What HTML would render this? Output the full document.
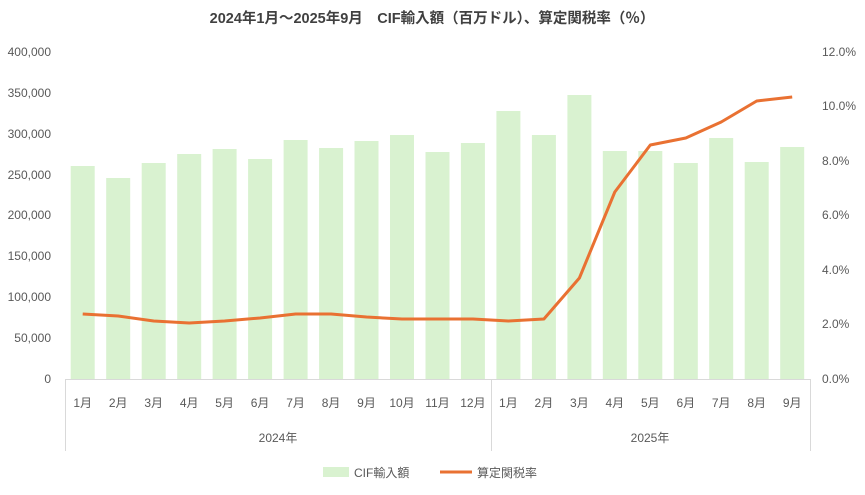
<!DOCTYPE html>
<html><head><meta charset="utf-8"><style>
body{margin:0;background:#fff;}
svg text{font-family:"Liberation Sans","Noto Sans CJK JP",sans-serif;fill:#595959;}
</style></head><body>
<svg width="865" height="490" viewBox="0 0 865 490" xmlns="http://www.w3.org/2000/svg">
<rect width="865" height="490" fill="#fff"/>
<text x="432" y="23" text-anchor="middle" font-size="14.5" font-weight="bold" style="fill:#404040">2024年1月～2025年9月　CIF輸入額（百万ドル）、算定関税率（％）</text>
<g font-size="12" text-anchor="end">
<text x="51" y="383">0</text><text x="51" y="342">50,000</text><text x="51" y="301">100,000</text><text x="51" y="260">150,000</text><text x="51" y="219">200,000</text><text x="51" y="179">250,000</text><text x="51" y="138">300,000</text><text x="51" y="97">350,000</text><text x="51" y="56">400,000</text>
</g>
<g font-size="12" text-anchor="start">
<text x="822" y="383">0.0%</text><text x="822" y="328">2.0%</text><text x="822" y="274">4.0%</text><text x="822" y="219">6.0%</text><text x="822" y="165">8.0%</text><text x="822" y="110">10.0%</text><text x="822" y="56">12.0%</text>
</g>
<g fill="#d9f2d0">
<rect x="70.7" y="166" width="24" height="213"/>
<rect x="106.2" y="178" width="24" height="201"/>
<rect x="141.7" y="163" width="24" height="216"/>
<rect x="177.2" y="154" width="24" height="225"/>
<rect x="212.6" y="149" width="24" height="230"/>
<rect x="248.1" y="159" width="24" height="220"/>
<rect x="283.6" y="140" width="24" height="239"/>
<rect x="319.1" y="148" width="24" height="231"/>
<rect x="354.5" y="141" width="24" height="238"/>
<rect x="390.0" y="135" width="24" height="244"/>
<rect x="425.5" y="152" width="24" height="227"/>
<rect x="460.9" y="143" width="24" height="236"/>
<rect x="496.4" y="111" width="24" height="268"/>
<rect x="531.9" y="135" width="24" height="244"/>
<rect x="567.4" y="95" width="24" height="284"/>
<rect x="602.8" y="151" width="24" height="228"/>
<rect x="638.3" y="151" width="24" height="228"/>
<rect x="673.8" y="163" width="24" height="216"/>
<rect x="709.2" y="138" width="24" height="241"/>
<rect x="744.7" y="162" width="24" height="217"/>
<rect x="780.2" y="147" width="24" height="232"/>
</g>
<line x1="65" y1="379.5" x2="810" y2="379.5" stroke="#d9d9d9"/>
<g stroke="#d9d9d9"><line x1="65.5" y1="379" x2="65.5" y2="451"/><line x1="491.5" y1="379" x2="491.5" y2="451"/><line x1="810.5" y1="379" x2="810.5" y2="451"/></g>
<g font-size="12" text-anchor="middle">
<text x="82.7" y="407">1月</text><text x="118.2" y="407">2月</text><text x="153.7" y="407">3月</text><text x="189.2" y="407">4月</text><text x="224.6" y="407">5月</text><text x="260.1" y="407">6月</text><text x="295.6" y="407">7月</text><text x="331.1" y="407">8月</text><text x="366.5" y="407">9月</text><text x="402.0" y="407">10月</text><text x="437.5" y="407">11月</text><text x="472.9" y="407">12月</text><text x="508.4" y="407">1月</text><text x="543.9" y="407">2月</text><text x="579.4" y="407">3月</text><text x="614.8" y="407">4月</text><text x="650.3" y="407">5月</text><text x="685.8" y="407">6月</text><text x="721.2" y="407">7月</text><text x="756.7" y="407">8月</text><text x="792.2" y="407">9月</text>
</g>
<text x="278" y="442" font-size="12" text-anchor="middle">2024年</text>
<text x="650" y="442" font-size="12" text-anchor="middle">2025年</text>
<polyline fill="none" stroke="#e97132" stroke-width="3" stroke-linejoin="round" points="82.7,314 118.2,316 153.7,321 189.2,323 224.6,321 260.1,318 295.6,314 331.1,314 366.5,317 402,319 437.5,319 472.9,319 508.4,321 543.9,319 579.4,278 614.8,192 650.3,145 685.8,138 721.2,122 756.7,101 792.2,97"/>
<rect x="323" y="467" width="26" height="10" fill="#d9f2d0"/>
<text x="354" y="477" font-size="12">CIF輸入額</text>
<line x1="440" y1="472" x2="472" y2="472" stroke="#e97132" stroke-width="3"/>
<text x="477" y="477" font-size="12">算定関税率</text>
</svg>
</body></html>
